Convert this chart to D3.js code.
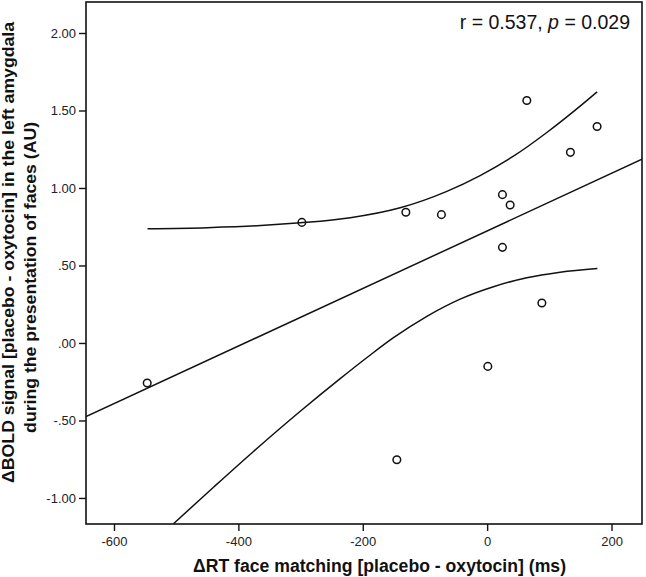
<!DOCTYPE html>
<html>
<head>
<meta charset="utf-8">
<script src="https://cdn.jsdelivr.net/npm/d3@7"></script>
<style>
  html, body { margin: 0; padding: 0; background: #fff; }
  svg { display: block; font-family: "Liberation Sans", Arial, sans-serif; }
</style>
</head>
<body>
<svg id="chart" width="646" height="577"></svg>
<script>
// ---- data ----
const rtDiff   = [-546.6, -297.9, -145.2, -130.7, -73.5, 1.1, 24.6, 24.6, 37, 63.8, 88, 133.9, 176.8];
const boldDiff = [-0.258, 0.778, -0.753, 0.843, 0.828, -0.151, 0.957, 0.617, 0.89, 1.564, 0.258, 1.23, 1.397];

// 95% CI curves of the fit line
const ciUpperX = [-546.1, -450, -370, -300.6, -220, -139.9, -64.8, -11.3, 42.3, 96, 149.5, 176.8];
const ciUpperY = [0.737, 0.744, 0.756, 0.775, 0.808, 0.872, 0.978, 1.080, 1.205, 1.358, 1.528, 1.620];
const ciLowerX = [-504.3, -440, -375.7, -300, -236.3, -190, -150.6, -96.9, -43.4, 10.1, 63.8, 117.4, 177.3];
const ciLowerY = [-1.166, -0.931, -0.700, -0.439, -0.230, -0.084, 0.034, 0.172, 0.283, 0.363, 0.421, 0.457, 0.481];

const xTicks = [-600, -400, -200, 0, 200];
const xTickLabels = ["-600", "-400", "-200", "0", "200"];
const yTicks = [-1, -0.5, 0, 0.5, 1, 1.5, 2];
const yTickLabels = ["-1.00", "-.50", ".00", ".50", "1.00", "1.50", "2.00"];

const xTitle = "ΔRT face matching [placebo - oxytocin] (ms)";
const yTitle1 = "ΔBOLD signal [placebo - oxytocin] in the left amygdala";
const yTitle2 = "during the presentation of faces (AU)";
const statPre = "r = 0.537, ";
const statP = "p";
const statPost = " = 0.029";

// ---- layout ----
const L = 86, R = 642, T = 2, B = 524;
const svg = d3.select("#chart");

const x = d3.scaleLinear().domain([-645, 249]).range([L, R]);
const y = d3.scaleLinear().domain([-1.168, 2.2]).range([B, T]);

svg.append("defs").append("clipPath").attr("id", "plotclip")
  .append("rect").attr("x", L).attr("y", T).attr("width", R - L).attr("height", B - T);

// frame
svg.append("rect").attr("x", L).attr("y", T).attr("width", R - L).attr("height", B - T)
  .attr("fill", "none").attr("stroke", "#111").attr("stroke-width", 1.6);

// axes
const xAxis = d3.axisBottom(x).tickValues(xTicks)
  .tickFormat((d, i) => xTickLabels[i]).tickSize(7).tickPadding(6).tickSizeOuter(0);
const gx = svg.append("g").attr("transform", `translate(0,${B})`).call(xAxis);
gx.select(".domain").remove();
gx.selectAll("line").attr("stroke", "#111").attr("stroke-width", 1.4);
gx.selectAll("text").attr("font-size", 13).attr("fill", "#222")
  .attr("font-family", "'Liberation Sans', Arial, sans-serif");

const yAxis = d3.axisLeft(y).tickValues(yTicks)
  .tickFormat((d, i) => yTickLabels[i]).tickSize(7).tickPadding(3).tickSizeOuter(0);
const gy = svg.append("g").attr("transform", `translate(${L},0)`).call(yAxis);
gy.select(".domain").remove();
gy.selectAll("line").attr("stroke", "#111").attr("stroke-width", 1.4);
gy.selectAll("text").attr("font-size", 13).attr("fill", "#222")
  .attr("font-family", "'Liberation Sans', Arial, sans-serif");

// regression fit (least squares)
const n = rtDiff.length;
const mx = d3.mean(rtDiff), my = d3.mean(boldDiff);
let sxy = 0, sxx = 0;
for (let i = 0; i < n; i++) { sxy += (rtDiff[i] - mx) * (boldDiff[i] - my); sxx += (rtDiff[i] - mx) ** 2; }
const slope = sxy / sxx, intercept = my - slope * mx;
const fitPts = x.domain().map(v => [v, intercept + slope * v]);

const plot = svg.append("g").attr("clip-path", "url(#plotclip)");
const lineGen = d3.line().x(d => x(d[0])).y(d => y(d[1]));
const curveGen = d3.line().x(d => x(d[0])).y(d => y(d[1])).curve(d3.curveMonotoneX);

plot.append("path").attr("d", lineGen(fitPts))
  .attr("fill", "none").attr("stroke", "#111").attr("stroke-width", 1.5);
plot.append("path").attr("d", curveGen(ciUpperX.map((v, i) => [v, ciUpperY[i]])))
  .attr("fill", "none").attr("stroke", "#111").attr("stroke-width", 1.5);
plot.append("path").attr("d", curveGen(ciLowerX.map((v, i) => [v, ciLowerY[i]])))
  .attr("fill", "none").attr("stroke", "#111").attr("stroke-width", 1.5);

// points
plot.selectAll("circle.pt").data(rtDiff.map((v, i) => [v, boldDiff[i]]))
  .enter().append("circle").attr("class", "pt")
  .attr("cx", d => x(d[0])).attr("cy", d => y(d[1])).attr("r", 3.8)
  .attr("fill", "none").attr("stroke", "#111").attr("stroke-width", 1.5);

// stat annotation
const st = svg.append("text").attr("x", 630).attr("y", 28.5).attr("text-anchor", "end")
  .attr("font-size", 19.5).attr("fill", "#111");
st.append("tspan").text(statPre);
st.append("tspan").attr("font-style", "italic").text(statP);
st.append("tspan").text(statPost);

// axis titles
svg.append("text").attr("x", 379.5).attr("y", 572).attr("text-anchor", "middle")
  .attr("font-size", 17.5).attr("font-weight", "bold").attr("fill", "#111")
  .attr("textLength", 373).attr("lengthAdjust", "spacingAndGlyphs").text(xTitle);

svg.append("text").attr("transform", "translate(14,252.4) rotate(-90)").attr("text-anchor", "middle")
  .attr("font-size", 17).attr("font-weight", "bold").attr("fill", "#111")
  .attr("textLength", 461).attr("lengthAdjust", "spacingAndGlyphs").text(yTitle1);
svg.append("text").attr("transform", "translate(35.5,277.4) rotate(-90)").attr("text-anchor", "middle")
  .attr("font-size", 17).attr("font-weight", "bold").attr("fill", "#111")
  .attr("textLength", 311).attr("lengthAdjust", "spacingAndGlyphs").text(yTitle2);
</script>
</body>
</html>
